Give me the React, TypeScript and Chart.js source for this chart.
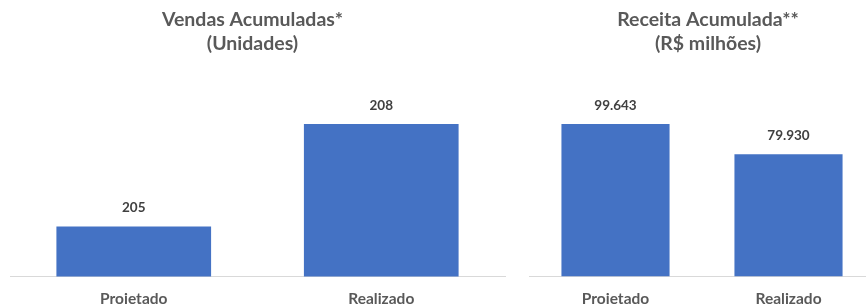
import React, { useEffect, useRef } from 'react';
import { Chart, registerables } from 'chart.js';

Chart.register(...registerables);

const categories = ['Projetado', 'Realizado'];
const vendasValues = [205, 208];
const receitaValues = [99643, 79930];
const vendasTitle = ['Vendas Acumuladas*', '(Unidades)'];
const receitaTitle = ['Receita Acumulada**', '(R$ milhões)'];
const vendasAxisRange = [203.545, 209.285];
const receitaAxisRange = [0, 128400];

const FONT = 'Lato, "Open Sans", sans-serif';
const BAR_COLOR = '#4472C4';

function formatThousands(v: number): string {
  const s = Math.round(v).toString();
  return s.replace(/\B(?=(\d{3})+(?!\d))/g, '.');
}

const valueLabelPlugin = {
  id: 'valueLabels',
  afterDatasetsDraw(chart: any) {
    const ctx = chart.ctx;
    const meta = chart.getDatasetMeta(0);
    const data = chart.data.datasets[0].data as number[];
    ctx.save();
    ctx.font = `bold 13.5px ${FONT}`;
    ctx.fillStyle = '#404040';
    ctx.textAlign = 'center';
    ctx.textBaseline = 'middle';
    meta.data.forEach((bar: any, i: number) => {
      ctx.fillText(formatThousands(data[i]), bar.x, bar.y - 18.5);
    });
    ctx.restore();
  },
};

function makeConfig(
  values: number[],
  title: string[],
  range: number[],
  padding: { left: number; right: number },
  yPos: 'left' | 'right',
  yWidth: number,
  barPct: number
): any {
  return {
    type: 'bar',
    data: {
      labels: categories,
      datasets: [
        {
          data: values,
          backgroundColor: BAR_COLOR,
          borderWidth: 0,
          categoryPercentage: 1,
          barPercentage: barPct,
        },
      ],
    },
    options: {
      responsive: false,
      animation: false,
      layout: { padding: { left: padding.left, right: padding.right, top: 0, bottom: 2 } },
      plugins: {
        legend: { display: false },
        tooltip: { enabled: false },
        title: {
          display: true,
          text: title,
          color: '#595959',
          font: { family: FONT, size: 19.5, weight: 'bold', lineHeight: '24px' },
          padding: { top: 8, bottom: 24 },
        },
      },
      scales: {
        x: {
          grid: { display: false, drawTicks: false },
          border: { display: true, color: '#D9D9D9', width: 1 },
          ticks: {
            color: '#595959',
            font: { family: FONT, size: 15.5, weight: 'bold', lineHeight: 1.2 },
            padding: 13.5,
            maxRotation: 0,
          },
        },
        y: {
          position: yPos,
          min: range[0],
          max: range[1],
          display: true,
          grid: { display: false, drawTicks: false },
          border: { display: false },
          ticks: { display: false },
          afterFit: (s: any) => {
            s.width = yWidth;
          },
        },
      },
    },
    plugins: [valueLabelPlugin],
  };
}

export default function App() {
  const leftRef = useRef<HTMLCanvasElement>(null);
  const rightRef = useRef<HTMLCanvasElement>(null);

  useEffect(() => {
    const left = new Chart(
      leftRef.current as HTMLCanvasElement,
      makeConfig(vendasValues, vendasTitle, vendasAxisRange, { left: 0, right: 5 }, 'left', 10, 0.625)
    );
    const right = new Chart(
      rightRef.current as HTMLCanvasElement,
      makeConfig(receitaValues, receitaTitle, receitaAxisRange, { left: 14, right: 0 }, 'right', 12, 0.625)
    );
    return () => {
      left.destroy();
      right.destroy();
    };
  }, []);

  return (
    <div
      style={{
        position: 'fixed',
        left: 0,
        top: 0,
        width: 866,
        height: 304,
        overflow: 'hidden',
        background: '#ffffff',
      }}
    >
      <canvas
        ref={leftRef}
        width={510}
        height={324}
        style={{ position: 'absolute', left: 0, top: 0, width: 510, height: 324 }}
      />
      <canvas
        ref={rightRef}
        width={372}
        height={324}
        style={{ position: 'absolute', left: 515, top: 0, width: 372, height: 324 }}
      />
    </div>
  );
}
